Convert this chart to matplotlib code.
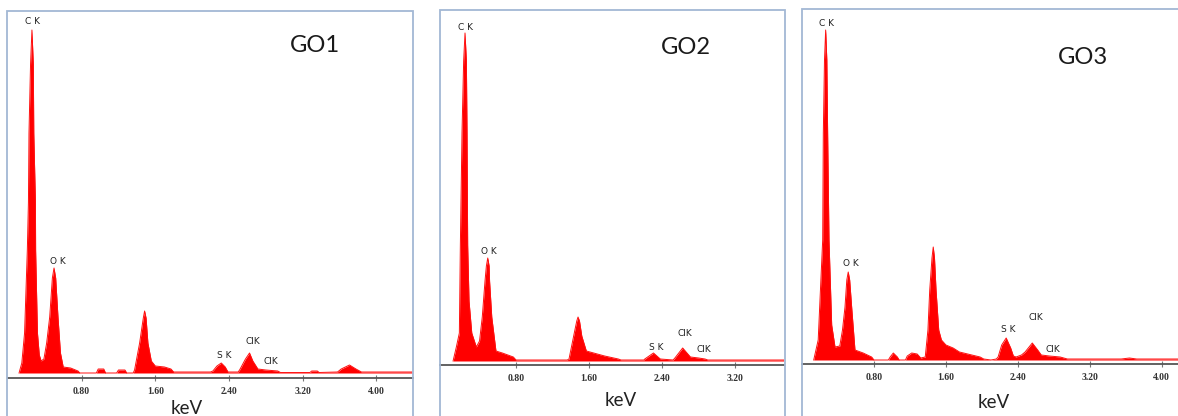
""" EDS spectra of GO1, GO2 and GO3
"""

# Importing the libraries
import matplotlib
matplotlib.use('Agg')
import matplotlib.pyplot as plt
from matplotlib.patches import Rectangle

# Spectrum outlines (energy in keV, counts in arbitrary units)
go1_kev = [0.12, 0.15, 0.18, 0.21, 0.222, 0.228, 0.245, 0.26, 0.275, 0.28, 0.298, 0.30, 0.32,
           0.34, 0.36, 0.39, 0.42, 0.453, 0.482, 0.50, 0.518, 0.543, 0.57, 0.60, 0.68, 0.76,
           0.78, 0.96, 0.98, 1.04, 1.06, 1.18, 1.20, 1.27, 1.29, 1.36, 1.375, 1.43, 1.47,
           1.484, 1.50, 1.52, 1.557, 1.60, 1.70, 1.77, 1.80, 2.20, 2.226, 2.27, 2.317, 2.36,
           2.39, 2.50, 2.516, 2.58, 2.624, 2.66, 2.715, 2.80, 2.93, 2.96, 3.28, 3.30, 3.36,
           3.38, 3.58, 3.62, 3.71, 3.78, 3.84, 4.39]
go1_counts = [0, 10, 40, 123, 171, 240, 309, 343, 309, 240, 171, 123, 40,
              18, 12, 14, 30, 56, 95, 105, 95, 56, 20, 6, 5, 2,
              0, 0, 4, 4, 0, 0, 3, 3, 0, 0, 3, 30, 55,
              62, 55, 30, 12, 7, 6, 4, 1, 1, 2, 7, 10, 6,
              1, 1, 3, 14, 20, 12, 4, 3, 2, 0.5, 0.5, 2, 2,
              0.5, 1, 4, 8, 4, 1, 1]

go2_kev = [0.11, 0.146, 0.179, 0.19, 0.208, 0.226, 0.241, 0.256, 0.263, 0.27, 0.285, 0.315,
           0.365, 0.40, 0.43, 0.46, 0.475, 0.49, 0.505, 0.51, 0.534, 0.58, 0.65, 0.77, 0.80,
           1.36, 1.38, 1.44, 1.465, 1.479, 1.495, 1.52, 1.57, 1.65, 1.77, 1.92, 1.95, 2.20,
           2.21, 2.305, 2.38, 2.52, 2.54, 2.625, 2.71, 2.80, 2.87, 2.90, 3.73]
go2_counts = [0, 14, 28, 116, 228, 300, 328, 300, 228, 116, 60, 28,
              14, 20, 44, 80, 95, 103, 95, 80, 44, 10, 8, 4, 1,
              1, 2, 29, 40, 44, 40, 25, 10, 8, 5, 2, 1, 1,
              2, 8, 2, 1, 3, 13, 4, 3, 2, 1, 1]

go3_kev = [0.13, 0.18, 0.23, 0.237, 0.25, 0.263, 0.276, 0.285, 0.30, 0.33, 0.367, 0.42, 0.45,
           0.478, 0.498, 0.514, 0.53, 0.552, 0.589, 0.68, 0.774, 0.80, 0.96, 0.98, 1.015,
           1.06, 1.08, 1.15, 1.17, 1.22, 1.28, 1.32, 1.37, 1.40, 1.42, 1.445, 1.459, 1.473,
           1.49, 1.52, 1.55, 1.60, 1.68, 1.75, 1.98, 2.02, 2.10, 2.16, 2.18, 2.22, 2.27, 2.32,
           2.35, 2.38, 2.44, 2.48, 2.56, 2.62, 2.66, 2.75, 2.87, 2.95, 3.55, 3.64, 3.72, 4.18]
go3_counts = [0, 20, 120, 227, 300, 330, 300, 227, 120, 35, 13, 14, 30,
              53, 80, 88, 80, 53, 10, 7, 3, 0, 0, 3, 7,
              3, 0, 0, 4, 7, 6, 2, 3, 30, 70, 102, 113, 102,
              70, 30, 20, 15, 12, 8, 3, 1, 0, 1, 3, 15, 22, 12,
              4, 3, 5, 8, 17, 10, 5, 4, 3, 1, 1, 2, 1, 1]

names = ['GO1', 'GO2', 'GO3']
tick_values = [[0.8, 1.6, 2.4, 3.2, 4.0], [0.8, 1.6, 2.4, 3.2], [0.8, 1.6, 2.4, 3.2, 4.0]]
peak_labels = ['C K', 'O K', 'S K', 'ClK', 'ClK']

W, H = 1178, 416


def px_box(left, top, right, bottom):
    return [left / W, 1 - bottom / H, (right - left) / W, (bottom - top) / H]


def main():
    fig = plt.figure(figsize=(W / 100, H / 100), dpi=100)
    fig.patch.set_facecolor('white')

    spectra = [(go1_kev, go1_counts), (go2_kev, go2_counts), (go3_kev, go3_counts)]
    # panel geometry in pixels: axes box, frame box, x-range, y-range
    axes_px = [(8, 11, 413, 378), (440, 10, 784, 365), (802, 9, 1178, 364)]
    frame_px = [(7, 11, 413, 430), (440, 10, 785, 430), (802, 9, 1190, 430)]
    xlims = [(0, 4.4), (-0.033, 3.735), (0, 4.18)]
    ylims = [(-5, 362), (-4, 351), (-4, 351)]
    # label positions (keV, counts) for C K, O K, S K, ClK, ClK and the sample name
    label_pos = [
        [(0.27, 351), (0.54, 111), (2.35, 18), (2.66, 32), (2.86, 11), (3.33, 328)],
        [(0.25, 333), (0.50, 109), (2.34, 14), (2.65, 28), (2.86, 11), (2.66, 314)],
        [(0.27, 337), (0.54, 97), (2.29, 30), (2.60, 43), (2.79, 11), (3.12, 303)],
    ]
    kev_px = [(187, 408), (621, 400), (994, 402)]

    for i in range(3):
        l, t, r, b = frame_px[i]
        fig.patches.append(Rectangle((l / W, 1 - b / H), (r - l) / W, (b - t) / H,
                                     transform=fig.transFigure, fill=False,
                                     edgecolor='#a3b8d4', linewidth=1.3, zorder=0))

        ax = fig.add_axes(px_box(*axes_px[i]))
        ax.patch.set_alpha(0)
        kev, counts = spectra[i]
        ax.fill_between(kev, counts, 0, color='#ff0000', linewidth=0)
        ax.plot(kev, counts, color='#ff1010', linewidth=0.7)
        ax.set_xlim(*xlims[i])
        ax.set_ylim(*ylims[i])

        for side in ['top', 'left', 'right']:
            ax.spines[side].set_visible(False)
        ax.spines['bottom'].set_color('#555555')
        ax.spines['bottom'].set_linewidth(1.3)
        ax.set_yticks([])
        ax.set_xticks(tick_values[i])
        ax.set_xticklabels(['%.2f' % v for v in tick_values[i]],
                           fontfamily='Liberation Serif', fontweight='bold', fontsize=7,
                           color='#333333')
        ax.tick_params(axis='x', direction='inout', length=5, width=0.8,
                       color='#777777', pad=4)

        for j, text in enumerate(peak_labels):
            x, y = label_pos[i][j]
            ax.text(x, y, text, fontsize=6.5, fontfamily='DejaVu Sans',
                    color='#222222', ha='center', va='center')
        x, y = label_pos[i][5]
        ax.text(x, y, names[i], fontsize=17, fontfamily='Lato', color='#1a1a1a',
                ha='center', va='center')

        kx, ky = kev_px[i]
        fig.text(kx / W, 1 - ky / H, 'keV', fontsize=13.5, fontfamily='Lato',
                 color='#222222', ha='center', va='center')

    plt.savefig('out.png', dpi=100)


if __name__ == '__main__':
    main()
